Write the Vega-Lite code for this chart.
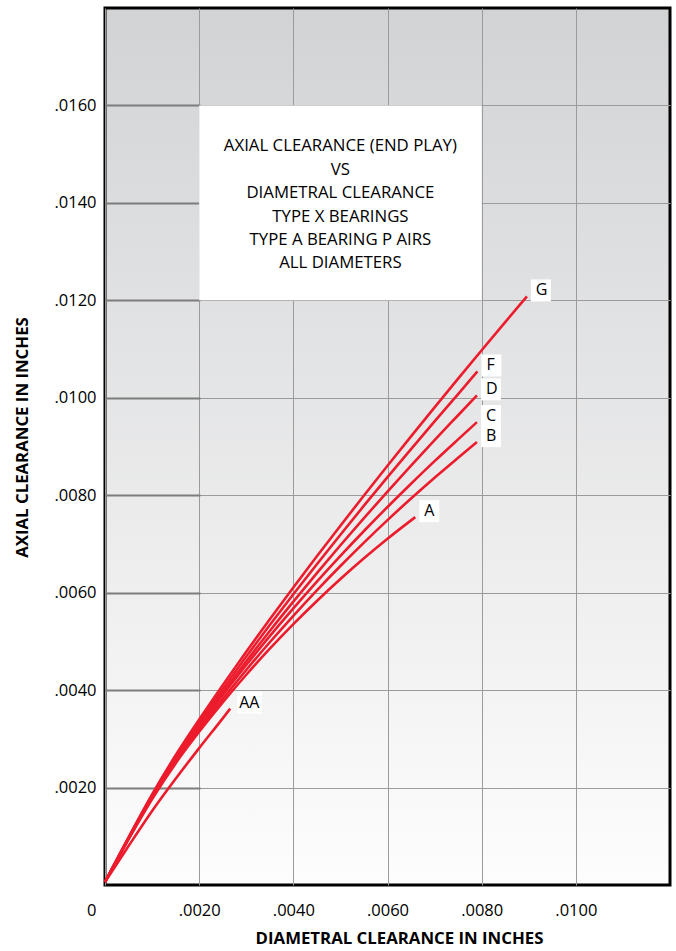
{
  "$schema": "https://vega.github.io/schema/vega-lite/v6.json",
  "width": 565,
  "height": 877,
  "autosize": {"type": "none"},
  "padding": {"left": 105, "top": 8, "right": 6, "bottom": 66},
  "background": "white",
  "view": {
    "stroke": "#000000",
    "strokeWidth": 3,
    "fill": {"gradient": "linear", "x1": 0, "y1": 0, "x2": 0, "y2": 1,
      "stops": [{"offset": 0, "color": "#d2d3d5"}, {"offset": 1, "color": "#fdfdfd"}]}
  },
  "config": {"font": "Open Sans"},
  "datasets": {
    "box": [
      {"x": 0.002, "x2": 0.008, "y": 0.012, "y2": 0.016, "cx": 0.005, "cy": 0.01516,
       "lines": ["AXIAL CLEARANCE (END PLAY)", "VS", "DIAMETRAL CLEARANCE", "TYPE X BEARINGS", "TYPE A BEARING P AIRS", "ALL DIAMETERS"]}
    ],
    "curves": [
      {"curve": "G", "x": 0, "y": 0.00006}, {"curve": "G", "x": 0.0005, "y": 0.00098}, {"curve": "G", "x": 0.001, "y": 0.00186}, {"curve": "G", "x": 0.0015, "y": 0.002663}, {"curve": "G", "x": 0.002, "y": 0.0033969}, {"curve": "G", "x": 0.0025, "y": 0.0041024}, {"curve": "G", "x": 0.003, "y": 0.0047873}, {"curve": "G", "x": 0.0035, "y": 0.0054541}, {"curve": "G", "x": 0.004, "y": 0.0061057}, {"curve": "G", "x": 0.0045, "y": 0.0067457}, {"curve": "G", "x": 0.005, "y": 0.0073747}, {"curve": "G", "x": 0.0055, "y": 0.0079943}, {"curve": "G", "x": 0.006, "y": 0.0086047}, {"curve": "G", "x": 0.0065, "y": 0.0092069}, {"curve": "G", "x": 0.007, "y": 0.0098038}, {"curve": "G", "x": 0.0075, "y": 0.0103921}, {"curve": "G", "x": 0.008, "y": 0.0109754}, {"curve": "G", "x": 0.0085, "y": 0.0115531}, {"curve": "G", "x": 0.00896, "y": 0.01208},
      {"curve": "F", "x": 0, "y": 0.00006}, {"curve": "F", "x": 0.0005, "y": 0.000966}, {"curve": "F", "x": 0.001, "y": 0.001831}, {"curve": "F", "x": 0.0015, "y": 0.0026182}, {"curve": "F", "x": 0.002, "y": 0.0033351}, {"curve": "F", "x": 0.0025, "y": 0.0040226}, {"curve": "F", "x": 0.003, "y": 0.0046885}, {"curve": "F", "x": 0.0035, "y": 0.0053353}, {"curve": "F", "x": 0.004, "y": 0.0059659}, {"curve": "F", "x": 0.0045, "y": 0.0065838}, {"curve": "F", "x": 0.005, "y": 0.0071897}, {"curve": "F", "x": 0.0055, "y": 0.0077852}, {"curve": "F", "x": 0.006, "y": 0.0083705}, {"curve": "F", "x": 0.0065, "y": 0.0089465}, {"curve": "F", "x": 0.007, "y": 0.0095162}, {"curve": "F", "x": 0.0075, "y": 0.0100763}, {"curve": "F", "x": 0.00791, "y": 0.01054},
      {"curve": "D", "x": 0, "y": 0.00006}, {"curve": "D", "x": 0.0005, "y": 0.000958}, {"curve": "D", "x": 0.001, "y": 0.001811}, {"curve": "D", "x": 0.0015, "y": 0.0025837}, {"curve": "D", "x": 0.002, "y": 0.0032833}, {"curve": "D", "x": 0.0025, "y": 0.0039505}, {"curve": "D", "x": 0.003, "y": 0.0045933}, {"curve": "D", "x": 0.0035, "y": 0.005214}, {"curve": "D", "x": 0.004, "y": 0.0058155}, {"curve": "D", "x": 0.0045, "y": 0.0064016}, {"curve": "D", "x": 0.005, "y": 0.0069727}, {"curve": "D", "x": 0.0055, "y": 0.0075305}, {"curve": "D", "x": 0.006, "y": 0.0080751}, {"curve": "D", "x": 0.0065, "y": 0.0086077}, {"curve": "D", "x": 0.007, "y": 0.009131}, {"curve": "D", "x": 0.0075, "y": 0.0096417}, {"curve": "D", "x": 0.0079, "y": 0.01005},
      {"curve": "C", "x": 0, "y": 0.00006}, {"curve": "C", "x": 0.0005, "y": 0.000956}, {"curve": "C", "x": 0.001, "y": 0.001803}, {"curve": "C", "x": 0.0015, "y": 0.0025646}, {"curve": "C", "x": 0.002, "y": 0.0032489}, {"curve": "C", "x": 0.0025, "y": 0.0038965}, {"curve": "C", "x": 0.003, "y": 0.0045151}, {"curve": "C", "x": 0.0035, "y": 0.0051073}, {"curve": "C", "x": 0.004, "y": 0.0056759}, {"curve": "C", "x": 0.0045, "y": 0.0062245}, {"curve": "C", "x": 0.005, "y": 0.0067537}, {"curve": "C", "x": 0.0055, "y": 0.0072652}, {"curve": "C", "x": 0.006, "y": 0.0077591}, {"curve": "C", "x": 0.0065, "y": 0.0082364}, {"curve": "C", "x": 0.007, "y": 0.0087}, {"curve": "C", "x": 0.0075, "y": 0.0091467}, {"curve": "C", "x": 0.0079, "y": 0.0095},
      {"curve": "B", "x": 0, "y": 0.00006}, {"curve": "B", "x": 0.0005, "y": 0.000943}, {"curve": "B", "x": 0.001, "y": 0.001776}, {"curve": "B", "x": 0.0015, "y": 0.002522}, {"curve": "B", "x": 0.002, "y": 0.0031886}, {"curve": "B", "x": 0.0025, "y": 0.0038164}, {"curve": "B", "x": 0.003, "y": 0.0044135}, {"curve": "B", "x": 0.0035, "y": 0.0049823}, {"curve": "B", "x": 0.004, "y": 0.0055256}, {"curve": "B", "x": 0.0045, "y": 0.0060471}, {"curve": "B", "x": 0.005, "y": 0.0065474}, {"curve": "B", "x": 0.0055, "y": 0.0070281}, {"curve": "B", "x": 0.006, "y": 0.0074894}, {"curve": "B", "x": 0.0065, "y": 0.0079322}, {"curve": "B", "x": 0.007, "y": 0.0083596}, {"curve": "B", "x": 0.0075, "y": 0.0087681}, {"curve": "B", "x": 0.0079, "y": 0.00909},
      {"curve": "A", "x": 0, "y": 0.00006}, {"curve": "A", "x": 0.0005, "y": 0.00094}, {"curve": "A", "x": 0.001, "y": 0.001764}, {"curve": "A", "x": 0.0015, "y": 0.0024962}, {"curve": "A", "x": 0.002, "y": 0.0031438}, {"curve": "A", "x": 0.0025, "y": 0.0037475}, {"curve": "A", "x": 0.003, "y": 0.0043153}, {"curve": "A", "x": 0.0035, "y": 0.0048495}, {"curve": "A", "x": 0.004, "y": 0.0053532}, {"curve": "A", "x": 0.0045, "y": 0.0058299}, {"curve": "A", "x": 0.005, "y": 0.0062802}, {"curve": "A", "x": 0.0055, "y": 0.0067057}, {"curve": "A", "x": 0.006, "y": 0.0071066}, {"curve": "A", "x": 0.0065, "y": 0.0074839}, {"curve": "A", "x": 0.00659, "y": 0.00755},
      {"curve": "AA", "x": 0, "y": 0.00006}, {"curve": "AA", "x": 0.0005, "y": 0.0008}, {"curve": "AA", "x": 0.001, "y": 0.00152}, {"curve": "AA", "x": 0.0015, "y": 0.00218}, {"curve": "AA", "x": 0.002, "y": 0.00281}, {"curve": "AA", "x": 0.0025, "y": 0.00342}, {"curve": "AA", "x": 0.00266, "y": 0.00362}
    ]
  },
  "layer": [
    {
      "data": {"name": "box"},
      "mark": {"type": "rect", "fill": "#ffffff"},
      "encoding": {
        "x": {"field": "x", "type": "quantitative",
          "scale": {"domain": [0, 0.012], "nice": false, "zero": false},
          "axis": {
            "title": "DIAMETRAL CLEARANCE IN INCHES",
            "values": [0, 0.002, 0.004, 0.006, 0.008, 0.01],
            "labelExpr": "datum.value == 0 ? '0' : substring(format(datum.value, '.4f'), 1)",
            "grid": true, "gridColor": "#9b9b9b", "gridWidth": 1,
            "ticks": false, "domain": false,
            "labelFlush": false, "labelOverlap": false,
            "labelAlign": {"condition": {"test": "datum.value == 0", "value": "right"}, "value": "center"},
            "labelOffset": {"condition": {"test": "datum.value == 0", "value": -9}, "value": 0},
            "labelPadding": 17, "labelFontSize": 16.5, "labelColor": "#000000",
            "titleFontSize": 16.8, "titleFontWeight": "bold", "titleColor": "#000000", "titlePadding": 12,
            "titleX": 294
          }
        },
        "x2": {"field": "x2"},
        "y": {"field": "y", "type": "quantitative",
          "scale": {"domain": [0, 0.018], "nice": false, "zero": false},
          "axis": {
            "title": "AXIAL CLEARANCE IN INCHES",
            "values": [0.002, 0.004, 0.006, 0.008, 0.01, 0.012, 0.014, 0.016],
            "labelExpr": "substring(format(datum.value, '.4f'), 1)",
            "grid": true, "gridColor": "#9b9b9b", "gridWidth": 1,
            "ticks": true, "tickSize": -95, "tickColor": "#7d7d7d", "tickWidth": 2,
            "domain": false, "labelOverlap": false,
            "labelPadding": 104, "labelFontSize": 16.5, "labelColor": "#000000",
            "titleFontSize": 16.8, "titleFontWeight": "bold", "titleColor": "#000000", "titlePadding": 22,
            "titleY": 429
          }
        },
        "y2": {"field": "y2"}
      }
    },
    {
      "data": {"name": "curves"},
      "mark": {"type": "line", "color": "#ec1c2d", "strokeWidth": 2.6, "interpolate": "monotone"},
      "encoding": {
        "x": {"field": "x", "type": "quantitative"},
        "y": {"field": "y", "type": "quantitative"},
        "detail": {"field": "curve"}
      }
    },
    {
      "data": {"name": "curves"},
      "transform": [
        {"joinaggregate": [{"op": "max", "field": "x", "as": "xmax"}], "groupby": ["curve"]},
        {"filter": "datum.x == datum.xmax"}
      ],
      "mark": {"type": "point", "filled": true, "fill": "#ffffff", "opacity": 1, "strokeWidth": 0, "size": 400, "xOffset": 14, "yOffset": -6},
      "encoding": {
        "x": {"field": "x", "type": "quantitative"},
        "y": {"field": "y", "type": "quantitative"},
        "shape": {"field": "curve", "legend": null,
          "scale": {"domain": ["AA", "A", "B", "C", "D", "F", "G"],
            "range": ["M-0.7,-1.1L1.8,-1.1L1.8,1.1L-0.7,1.1Z", "M-1,-1.1L1,-1.1L1,1.1L-1,1.1Z", "M-1,-1.1L1,-1.1L1,1.1L-1,1.1Z", "M-1,-1.1L1,-1.1L1,1.1L-1,1.1Z", "M-1,-1.1L1,-1.1L1,1.1L-1,1.1Z", "M-1,-1.1L1,-1.1L1,1.1L-1,1.1Z", "M-1,-1.1L1,-1.1L1,1.1L-1,1.1Z"]}}
      }
    },
    {
      "data": {"name": "curves"},
      "transform": [
        {"joinaggregate": [{"op": "max", "field": "x", "as": "xmax"}], "groupby": ["curve"]},
        {"filter": "datum.x == datum.xmax"}
      ],
      "mark": {"type": "text", "align": "left", "baseline": "middle", "dx": 9, "dy": -6, "fontSize": 16, "color": "#000000"},
      "encoding": {
        "x": {"field": "x", "type": "quantitative"},
        "y": {"field": "y", "type": "quantitative"},
        "text": {"field": "curve"}
      }
    },
    {
      "data": {"name": "box"},
      "mark": {"type": "text", "align": "center", "baseline": "middle", "fontSize": 16.8, "lineHeight": 23.4, "color": "#000000"},
      "encoding": {
        "x": {"field": "cx", "type": "quantitative"},
        "y": {"field": "cy", "type": "quantitative"},
        "text": {"field": "lines"}
      }
    }
  ]
}
